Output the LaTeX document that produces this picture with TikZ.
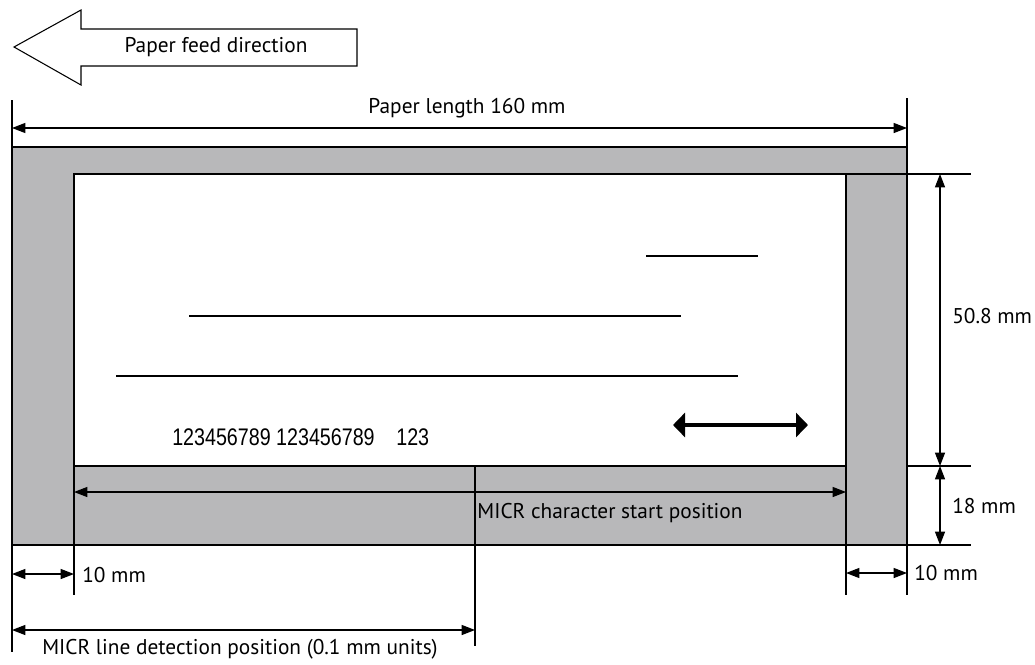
\documentclass[tikz,border=0pt]{standalone}
\usepackage{fontspec}
\setmainfont{PT Sans}
\newfontfamily\numfont{Liberation Sans}
\usetikzlibrary{arrows.meta}
\definecolor{paper}{HTML}{B8B8BA}
\begin{document}
\begin{tikzpicture}[x=0.75pt,y=-0.75pt,
  dimline/.style={line width=0.9pt,{Triangle[length=10pt,width=7.5pt]}-{Triangle[length=10pt,width=7.5pt]}},
  ext/.style={line width=0.9pt},
  lbl/.style={font=\fontsize{16}{18}\selectfont,inner sep=0pt},
  textline/.style={line width=2pt},
  border/.style={line width=1.5pt}]
\useasboundingbox (0,0) rectangle (1035,664);
% feed direction arrow
\draw[line width=0.8pt,fill=white] (14,47) -- (81,10) -- (81,29) -- (357,29) -- (357,66) -- (81,66) -- (81,85) -- cycle;
\node[lbl] (feed) at (216,47) {Paper feed direction};
% paper
\coordinate (oTL) at (12,147); \coordinate (oBR) at (907,545);
\coordinate (iTL) at (74,174); \coordinate (iBR) at (846,466);
\fill[paper] (oTL) rectangle (oBR);
\fill[white] (iTL) rectangle (iBR);
\draw[ext] (iTL) rectangle (iBR);
\draw[border] (12,147) -- (907,147);
\draw[border] (12,545) -- (907,545);
\draw[border] (74,466) -- (846,466);
% extension lines
\draw[ext] (12,100) -- (12,652);
\draw[ext] (907,98) -- (907,595);
\draw[ext] (74,466) -- (74,595);
\draw[ext] (846,466) -- (846,595);
\draw[ext] (475,466) -- (475,646);
\draw[ext] (846,174) -- (971,174);
\draw[ext] (907,466) -- (971,466);
\draw[ext] (907,545) -- (971,545);
% paper length
\coordinate (plA) at (12,128); \coordinate (plB) at (907,128);
\draw[dimline] (plA) -- (plB);
\node[lbl] (pl) at (467,108) {Paper length 160 mm};
% right dims
\coordinate (r1) at (940,174); \coordinate (r2) at (940,466); \coordinate (r3) at (940,545);
\draw[dimline] (r1) -- (r2);
\draw[dimline] (r2) -- (r3);
\node[lbl,anchor=west] (h1) at (952,316) {50.8 mm};
\node[lbl,anchor=west] (h2) at (952,506) {18 mm};
% MICR char start
\coordinate (mcA) at (74,492); \coordinate (mcB) at (846,492);
\draw[dimline] (mcA) -- (mcB);
\node[lbl] (mc) at (610,513) {MICR character start position};
% 10 mm
\coordinate (lA) at (12,574); \coordinate (lB) at (74,574);
\draw[dimline] (lA) -- (lB);
\node[lbl,anchor=west] (l10) at (82,575) {10 mm};
\coordinate (rA) at (846,573); \coordinate (rB) at (907,573);
\draw[dimline] (rA) -- (rB);
\node[lbl,anchor=west] (r10) at (914,573) {10 mm};
% MICR line detection
\coordinate (mdA) at (12,630); \coordinate (mdB) at (475,630);
\draw[dimline] (mdA) -- (mdB);
\node[lbl] (md) at (240,649) {MICR line detection position (0.1 mm units)};
% text lines
\draw[textline] (646,256) -- (758,256);
\draw[textline] (189,316) -- (681,316);
\draw[textline] (116,376) -- (738,376);
\draw[line width=2.6pt,{Triangle[length=9pt,width=18pt]}-{Triangle[length=9pt,width=18pt]}] (673,425) -- (808,425);
\node[inner sep=0pt,anchor=west] (num) at (172,437) {\numfont\fontsize{18}{20}\selectfont\scalebox{0.82}[1]{123456789 123456789\hspace{1.1em}123}};
\end{tikzpicture}
\end{document}
